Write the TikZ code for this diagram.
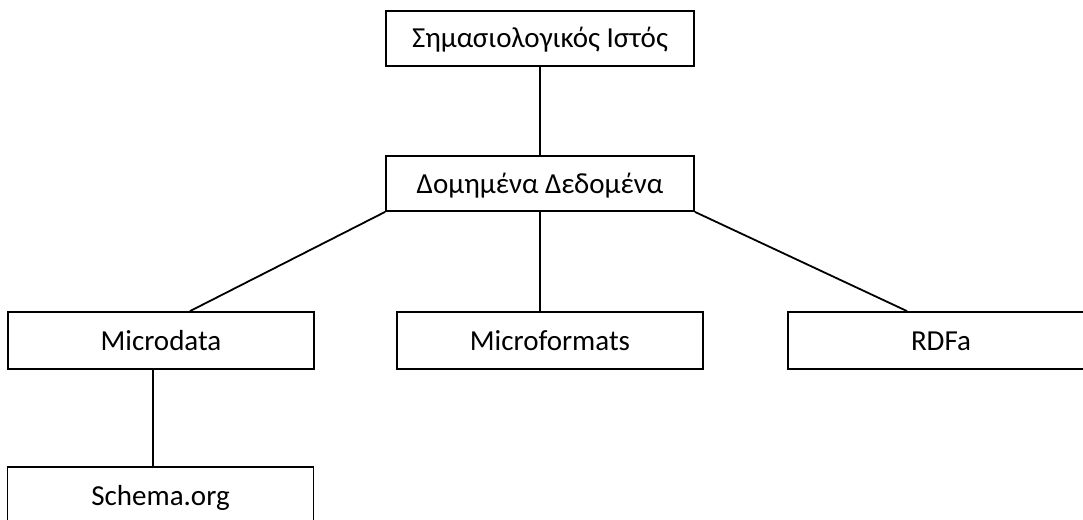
\documentclass[tikz,border=0pt]{standalone}
\usepackage{fontspec}
\setmainfont{Carlito}
\begin{document}
\begin{tikzpicture}[x=1pt,y=-1pt,
  box/.style={draw, line width=1.8pt, minimum width=306pt, minimum height=57pt,
    inner sep=0pt, font=\fontsize{29}{34}\selectfont, text height=19pt, text depth=0pt},
  wide/.style={box, minimum width=308pt, minimum height=55pt},
  link/.style={line width=1.8pt}]
\clip (0,0) rectangle (1083,519);
\useasboundingbox (0,0) rectangle (1083,519);

% hierarchy boxes
\node[wide] (sem) at (540,38.5) {Σημασιολογικός Ιστός};
\node[wide] (dom) at (540,183.5) {Δομημένα Δεδομένα};
\node[box] (md) at (161,340.5) {Microdata};
\node[box] (mf) at (550,340.5) {Microformats};
\node[box] (rdfa) at (941,340.5) {RDFa};
\node[box] (sch) at (160.5,495.5) {Schema.org};

% connectors
\draw[link] (sem.south) -- (dom.north);
\draw[link] (dom.south west) -- ([xshift=29pt]md.north);
\draw[link] (dom.south) -- (dom.south |- mf.north);
\draw[link] (dom.south east) -- ([xshift=-34pt]rdfa.north);
\draw[link] ([xshift=-8pt]md.south) -- ([xshift=-8pt]md.south |- sch.north);
\end{tikzpicture}
\end{document}
